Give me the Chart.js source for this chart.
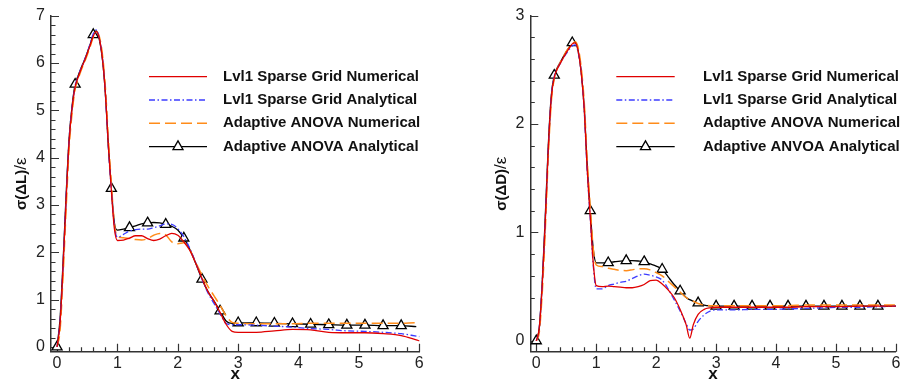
<!DOCTYPE html>
<html>
<head>
<meta charset="utf-8">
<script src="https://cdn.jsdelivr.net/npm/chart.js@4.4.1/dist/chart.umd.min.js"></script>
<style>
  html, body { margin: 0; padding: 0; background: #fff; }
  #wrap { position: relative; width: 903px; height: 383px; overflow: hidden; background: #fff; }
  #wrap canvas { position: absolute; top: 0; }
</style>
</head>
<body>
<div id="wrap">
  <canvas id="liftChart" width="451" height="383" style="left:0"></canvas>
  <canvas id="dragChart" width="452" height="383" style="left:451px"></canvas>
</div>
<script>
// ---- axis ticks and labels ----
const xTickVals = [0, 1, 2, 3, 4, 5, 6];
const yTickLift = [0, 1, 2, 3, 4, 5, 6, 7];
const yTickDrag = [0, 1, 2, 3];
const xTitle = 'x';
const yTitleLift = ['σ(ΔL)', '/ε'];
const yTitleDrag = ['σ(ΔD)', '/ε'];

// stations carrying a symbol on the analytical ANOVA curve
const markerX = [0, 0.3, 0.6, 0.9, 1.2, 1.5, 1.8, 2.1, 2.4, 2.7, 3.0, 3.3, 3.6, 3.9, 4.2, 4.5, 4.8, 5.1, 5.4, 5.7];

const liftLabels = ['Lvl1 Sparse Grid Numerical', 'Lvl1 Sparse Grid Analytical', 'Adaptive ANOVA Numerical', 'Adaptive ANOVA Analytical'];
const dragLabels = ['Lvl1 Sparse Grid Numerical', 'Lvl1 Sparse Grid Analytical', 'Adaptive ANOVA Numerical', 'Adaptive ANVOA Analytical'];

// ---- lift: sigma(dL)/eps along x ----
const xLift = [0, 0.05, 0.1, 0.15, 0.2, 0.25, 0.3, 0.35, 0.4, 0.45, 0.5, 0.55, 0.6, 0.65, 0.7, 0.75, 0.8, 0.85, 0.9, 0.95,
  1.0, 1.1, 1.2, 1.3, 1.4, 1.5, 1.6, 1.7, 1.8, 1.9, 2.0, 2.1, 2.2, 2.3, 2.4, 2.5, 2.6, 2.7, 2.8, 2.9, 3.0,
  3.3, 3.6, 3.9, 4.2, 4.5, 4.8, 5.1, 5.4, 5.7, 5.95, 6.0];
const liftSgNum = [0, 0.5, 1.7, 3.1, 4.35, 5.05, 5.5, 5.7, 5.88, 6.03, 6.2, 6.38, 6.57, 6.67, 6.52, 6.12, 5.38, 4.25, 3.3, 2.5,
  2.25, 2.26, 2.3, 2.35, 2.35, 2.29, 2.25, 2.28, 2.35, 2.4, 2.36, 2.22, 2.04, 1.76, 1.45, 1.17, 0.97, 0.73, 0.48, 0.33, 0.31,
  0.31, 0.34, 0.37, 0.36, 0.31, 0.3, 0.3, 0.28, 0.24, 0.15, 0.13];
const liftSgAna = [0, 0.55, 1.75, 3.15, 4.4, 5.08, 5.52, 5.72, 5.9, 6.05, 6.22, 6.42, 6.62, 6.7, 6.52, 6.12, 5.36, 4.22, 3.3, 2.55,
  2.32, 2.38, 2.45, 2.48, 2.49, 2.49, 2.52, 2.56, 2.6, 2.59, 2.5, 2.33, 2.08, 1.77, 1.43, 1.14, 0.92, 0.7, 0.5, 0.47, 0.47,
  0.46, 0.44, 0.42, 0.39, 0.37, 0.34, 0.33, 0.31, 0.28, 0.23, 0.22];
const liftAnovaNum = [0, 0.35, 1.5, 2.9, 4.2, 4.95, 5.45, 5.66, 5.85, 6.0, 6.17, 6.35, 6.55, 6.65, 6.56, 6.2, 5.5, 4.4, 3.45, 2.6,
  2.33, 2.31, 2.29, 2.27, 2.26, 2.29, 2.36, 2.4, 2.37, 2.22, 2.18, 2.2, 2.05, 1.78, 1.52, 1.28, 1.08, 0.88, 0.66, 0.52, 0.5,
  0.49, 0.49, 0.49, 0.5, 0.5, 0.5, 0.5, 0.5, 0.5, 0.51, 0.51];
const liftAnovaAna = [0, 0.6, 1.8, 3.2, 4.4, 5.1, 5.55, 5.73, 5.9, 6.05, 6.22, 6.4, 6.6, 6.68, 6.5, 6.1, 5.37, 4.25, 3.35, 2.62,
  2.47, 2.49, 2.52, 2.56, 2.6, 2.62, 2.63, 2.62, 2.59, 2.55, 2.47, 2.3, 2.06, 1.76, 1.43, 1.17, 0.97, 0.76, 0.55, 0.5, 0.51,
  0.51, 0.5, 0.49, 0.48, 0.47, 0.46, 0.46, 0.45, 0.45, 0.43, null];

// ---- drag: sigma(dD)/eps along x ----
const xDrag = [0, 0.05, 0.1, 0.15, 0.2, 0.25, 0.3, 0.35, 0.4, 0.45, 0.5, 0.55, 0.6, 0.65, 0.7, 0.75, 0.8, 0.85, 0.9, 0.95,
  1.0, 1.1, 1.2, 1.3, 1.4, 1.5, 1.6, 1.7, 1.8, 1.9, 2.0, 2.1, 2.2, 2.3, 2.4,
  2.5, 2.56, 2.62, 2.7, 2.8, 2.9, 3.0,
  3.3, 3.6, 3.9, 4.2, 4.5, 4.8, 5.1, 5.4, 5.7, 6.0];
const dragSgNum = [0, 0.12, 0.52, 1.1, 1.77, 2.24, 2.43, 2.51, 2.56, 2.61, 2.66, 2.7, 2.74, 2.75, 2.67, 2.47, 2.14, 1.58, 1.15, 0.72,
  0.51, 0.5, 0.505, 0.5, 0.495, 0.49, 0.49, 0.5, 0.52, 0.555, 0.56, 0.525, 0.47, 0.4, 0.29,
  0.15, 0.025, 0.15, 0.245, 0.29, 0.305, 0.31,
  0.31, 0.31, 0.31, 0.31, 0.315, 0.315, 0.315, 0.32, 0.32, 0.32];
const dragSgAna = [0, 0.12, 0.55, 1.12, 1.78, 2.25, 2.44, 2.51, 2.56, 2.61, 2.65, 2.69, 2.72, 2.73, 2.66, 2.47, 2.12, 1.56, 1.13, 0.7,
  0.48, 0.48, 0.51, 0.525, 0.54, 0.55, 0.575, 0.6, 0.615, 0.605, 0.59, 0.56, 0.48, 0.38, 0.275,
  0.16, 0.1, 0.11, 0.18, 0.24, 0.275, 0.285,
  0.285, 0.29, 0.29, 0.295, 0.3, 0.305, 0.31, 0.31, 0.315, 0.32];
const dragAnovaNum = [0, 0.08, 0.45, 1.02, 1.7, 2.2, 2.42, 2.51, 2.57, 2.62, 2.67, 2.71, 2.74, 2.76, 2.7, 2.52, 2.2, 1.66, 1.24, 0.85,
  0.7, 0.685, 0.67, 0.66, 0.65, 0.648, 0.655, 0.665, 0.665, 0.655, 0.63, 0.6, 0.55, 0.5, 0.45,
  0.4, 0.38, 0.365, 0.345, 0.33, 0.325, 0.325,
  0.325, 0.325, 0.325, 0.325, 0.33, 0.33, 0.33, 0.33, 0.33, 0.33];
const dragAnovaAna = [0, 0.12, 0.55, 1.15, 1.8, 2.26, 2.45, 2.52, 2.57, 2.62, 2.67, 2.71, 2.75, 2.76, 2.67, 2.48, 2.15, 1.61, 1.2, 0.85,
  0.72, 0.72, 0.72, 0.73, 0.735, 0.74, 0.74, 0.737, 0.73, 0.71, 0.69, 0.66, 0.59, 0.52, 0.46,
  0.4, 0.38, 0.365, 0.35, 0.33, 0.322, 0.32,
  0.32, 0.32, 0.32, 0.32, 0.32, 0.32, 0.32, 0.32, 0.32, 0.32];

// ---- appearance ----
const FONT = "'Liberation Sans', Arial, Helvetica, sans-serif";
const SERIES_STYLE = [
  { color: '#e00000', dash: [], width: 1.3 },
  { color: '#3c3cff', dash: [6, 2.5, 1.5, 2.5], width: 1.3 },
  { color: '#ff8c1a', dash: [11, 5], width: 1.5 },
  { color: '#000000', dash: [], width: 1.3, marker: true }
];
const MARKER_R = 5.8;

function isMarker(x) {
  return markerX.some(m => Math.abs(m - x) < 1e-9);
}

function trianglePath(ctx, x, y, r) {
  ctx.beginPath();
  let a = 0;
  ctx.moveTo(x + Math.sin(a) * r, y - Math.cos(a) * r);
  a += 2 * Math.PI / 3;
  ctx.lineTo(x + Math.sin(a) * r, y - Math.cos(a) * r);
  a += 2 * Math.PI / 3;
  ctx.lineTo(x + Math.sin(a) * r, y - Math.cos(a) * r);
  ctx.closePath();
}

// inward pointing major and minor ticks on the left and bottom axes
function inwardTicks(xMajor, yMajor) {
  return {
    id: 'inwardTicks',
    beforeDatasetsDraw(chart) {
      const { ctx, chartArea: a, scales: { x, y } } = chart;
      ctx.save();
      ctx.strokeStyle = '#333';
      ctx.lineWidth = 1.2;
      ctx.beginPath();
      const xMax = xMajor[xMajor.length - 1];
      for (let i = 0; i <= Math.round(xMax / 0.2); i++) {
        const v = i * 0.2;
        const major = xMajor.some(m => Math.abs(m - v) < 1e-6);
        const px = Math.round(x.getPixelForValue(v)) + 0.5;
        ctx.moveTo(px, a.bottom);
        ctx.lineTo(px, a.bottom - (major ? 8 : 4.5));
      }
      const yMax = yMajor[yMajor.length - 1];
      for (let i = 0; i <= Math.round(yMax / 0.2); i++) {
        const v = i * 0.2;
        const major = yMajor.some(m => Math.abs(m - v) < 1e-6);
        const py = Math.round(y.getPixelForValue(v)) + 0.5;
        ctx.moveTo(a.left, py);
        ctx.lineTo(a.left + (major ? 8 : 4.5), py);
      }
      ctx.stroke();
      ctx.restore();
    }
  };
}

// key with line samples in the upper right of the plot
function seriesKey(labels, lineX0, lineX1, textX, rowsY) {
  return {
    id: 'seriesKey',
    afterDatasetsDraw(chart) {
      const ctx = chart.ctx;
      ctx.save();
      labels.forEach((lab, i) => {
        const s = SERIES_STYLE[i];
        const yy = rowsY[i];
        ctx.strokeStyle = s.color;
        ctx.lineWidth = s.width;
        ctx.setLineDash(s.dash);
        ctx.beginPath();
        ctx.moveTo(lineX0, yy);
        ctx.lineTo(lineX1, yy);
        ctx.stroke();
        ctx.setLineDash([]);
        if (s.marker) {
          trianglePath(ctx, (lineX0 + lineX1) / 2, yy, MARKER_R);
          ctx.fillStyle = '#fff';
          ctx.fill();
          ctx.strokeStyle = '#000';
          ctx.lineWidth = 1.3;
          ctx.stroke();
        }
        ctx.fillStyle = '#111';
        ctx.font = 'bold 15px ' + FONT;
        ctx.textBaseline = 'middle';
        ctx.textAlign = 'left';
        ctx.fillText(lab, textX, yy);
      });
      ctx.restore();
    }
  };
}

// rotated y-axis title: bold quantity followed by a lighter "/eps"
function yAxisLabel(parts, centerX) {
  return {
    id: 'yAxisLabel',
    afterDraw(chart) {
      const { ctx, chartArea: a } = chart;
      const cy = (a.top + a.bottom) / 2;
      ctx.save();
      ctx.translate(centerX, cy);
      ctx.rotate(-Math.PI / 2);
      ctx.fillStyle = '#111';
      ctx.textBaseline = 'alphabetic';
      ctx.textAlign = 'left';
      const f1 = 'bold 15px ' + FONT, f2 = '17px ' + FONT;
      ctx.font = f1; const w1 = ctx.measureText(parts[0]).width;
      ctx.font = f2; const w2 = ctx.measureText(parts[1]).width;
      const x0 = -(w1 + w2) / 2;
      ctx.font = f1; ctx.fillText(parts[0], x0, 4);
      ctx.font = f2; ctx.fillText(parts[1], x0 + w1, 4);
      ctx.restore();
    }
  };
}

function makeChart(id, xs, seriesY, labels, yTicks, geom, key, yTitle) {
  const datasets = seriesY.map((arr, i) => {
    const s = SERIES_STYLE[i];
    return {
      label: labels[i],
      data: arr.map((v, j) => ({ x: xs[j], y: v })),
      borderColor: s.color,
      borderWidth: s.width,
      borderDash: s.dash,
      cubicInterpolationMode: 'monotone',
      tension: 0.4,
      fill: false,
      clip: false,
      spanGaps: false,
      pointStyle: 'triangle',
      pointRadius: s.marker ? (c => (c.raw && isMarker(c.raw.x)) ? MARKER_R : 0) : 0,
      pointHoverRadius: 0,
      pointBorderColor: '#000',
      pointBackgroundColor: '#fff',
      pointBorderWidth: 1.3
    };
  });

  const tickFont = { family: FONT, size: 16 };
  return new Chart(document.getElementById(id), {
    type: 'line',
    data: { datasets },
    options: {
      responsive: false,
      animation: false,
      events: [],
      layout: { padding: { left: 0, top: geom.top, right: geom.right, bottom: 0 } },
      plugins: { legend: { display: false }, tooltip: { enabled: false } },
      scales: {
        x: {
          type: 'linear', min: -0.1, max: 6,
          afterBuildTicks: s => { s.ticks = xTickVals.map(v => ({ value: v })); },
          afterFit: s => { s.height = geom.xH; s.paddingLeft = 0; s.paddingRight = 0; },
          grid: { display: false, drawTicks: false },
          border: { display: true, color: '#333', width: 1.5 },
          ticks: { font: tickFont, color: '#222', padding: 2, maxRotation: 0, autoSkip: false, callback: v => String(v) },
          title: { display: true, text: xTitle, color: '#111', padding: 0, font: { family: FONT, size: 17, weight: 'bold', lineHeight: 1 } }
        },
        y: {
          type: 'linear', min: -0.1, max: yTicks[yTicks.length - 1],
          afterBuildTicks: s => { s.ticks = yTicks.map(v => ({ value: v })); },
          afterFit: s => { s.width = geom.yW; s.paddingTop = 0; s.paddingBottom = 0; },
          grid: { display: false, drawTicks: false },
          border: { display: true, color: '#333', width: 1.5 },
          ticks: { font: tickFont, color: '#222', padding: 6, autoSkip: false, callback: v => String(v) }
        }
      }
    },
    plugins: [
      inwardTicks(xTickVals, yTicks),
      seriesKey(labels, key.x0, key.x1, key.tx, key.rows),
      yAxisLabel(yTitle, geom.titleX)
    ]
  });
}

makeChart('liftChart', xLift, [liftSgNum, liftSgAna, liftAnovaNum, liftAnovaAna], liftLabels, yTickLift,
  { top: 15.7, right: 31.7, xH: 31.3, yW: 51, titleX: 21.5 },
  { x0: 149, x1: 207, tx: 223, rows: [76.7, 100, 123.3, 146.7] },
  yTitleLift);

makeChart('dragChart', xDrag, [dragSgNum, dragSgAna, dragAnovaNum, dragAnovaAna], dragLabels, yTickDrag,
  { top: 15.7, right: 4, xH: 31.3, yW: 79.3, titleX: 50.5 },
  { x0: 165.3, x1: 223.7, tx: 252, rows: [76.7, 100, 123.3, 146.7] },
  yTitleDrag);
</script>
</body>
</html>
